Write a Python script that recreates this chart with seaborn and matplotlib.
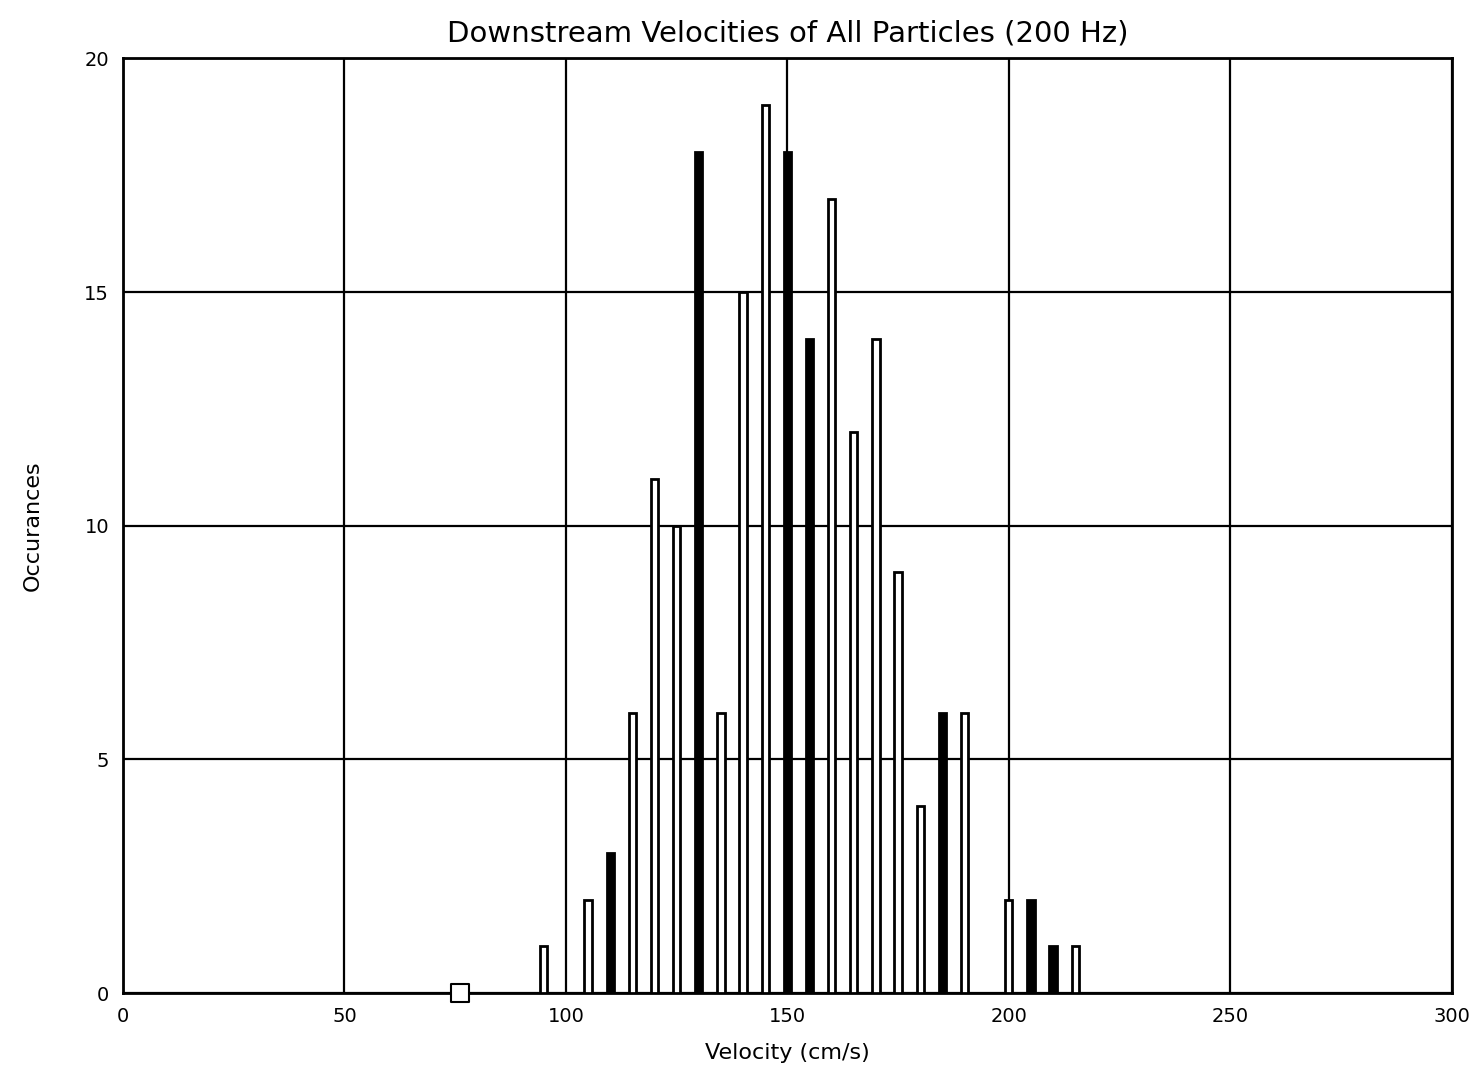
import numpy as np
import pandas as pd
import seaborn as sns
import matplotlib.pyplot as plt

# Data
velocity = [95, 105, 110, 115, 120, 125, 130, 135, 140, 145, 150, 155,
            160, 165, 170, 175, 180, 185, 190, 200, 205, 210, 215]
occurances = [1, 2, 3, 6, 11, 10, 18, 6, 15, 19, 18, 14,
              17, 12, 14, 9, 4, 6, 6, 2, 2, 1, 1]
filled = [False, False, True, False, False, False, True, False, False, False, True, True,
          False, False, False, False, False, True, False, False, True, True, False]
marker_x = [76]
marker_y = [0]

sns.set_style("white")
plt.rcParams['font.family'] = ['DejaVu Sans']
plt.rcParams['text.color'] = 'black'
plt.rcParams['axes.labelcolor'] = 'black'
plt.rcParams['xtick.color'] = 'black'
plt.rcParams['ytick.color'] = 'black'

fig = plt.figure(figsize=(14.78, 10.78), dpi=100)
ax = fig.add_axes([0.0832, 0.0788, 0.899, 0.867])

df = pd.DataFrame({"velocity": velocity, "count": occurances, "filled": filled})
sns.barplot(data=df, x="velocity", y="count", native_scale=True, width=0.33,
            color="white", edgecolor="black", linewidth=2, ax=ax, zorder=3)
for patch, f in zip(ax.patches, filled):
    if f:
        patch.set_facecolor("black")

# lone marker at the baseline
sns.scatterplot(x=marker_x, y=marker_y, marker="s", s=150, facecolor="white",
                edgecolor="black", linewidth=1.5, ax=ax, zorder=4, clip_on=False)

ax.set_xlim(0, 300)
ax.set_ylim(0, 20)
ax.set_xticks(np.arange(0, 301, 50))
ax.set_yticks(np.arange(0, 21, 5))
ax.grid(True, color="black", linewidth=1.6)
ax.set_axisbelow(True)
for s in ax.spines.values():
    s.set_color("black")
    s.set_linewidth(2)
ax.tick_params(length=0, labelsize=14, pad=10)

ax.set_xlabel("Velocity (cm/s)", fontsize=16, labelpad=12)
ax.set_ylabel("Occurances", fontsize=16, labelpad=30)
ax.set_title("Downstream Velocities of All Particles (200 Hz)", fontsize=21, pad=12)

fig.savefig("out.png", dpi=100)
